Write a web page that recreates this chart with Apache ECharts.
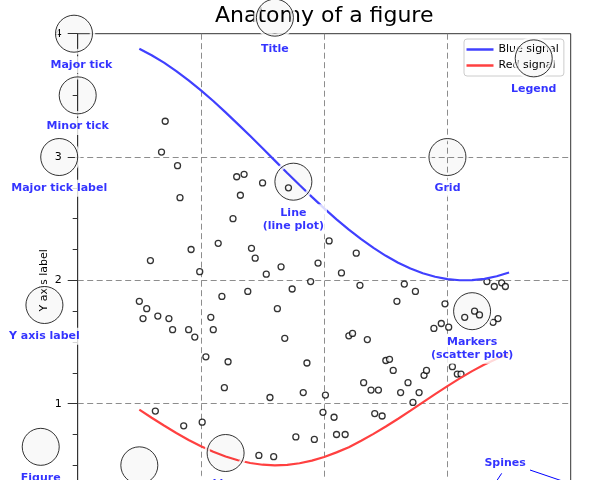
<!DOCTYPE html>
<html>
<head>
<meta charset="utf-8">
<title>Anatomy of a figure</title>
<script src="https://cdn.jsdelivr.net/npm/echarts@6/dist/echarts.min.js"></script>
<style>
    html, body { margin: 0; padding: 0; background: #fff; }
    #main { width: 599px; height: 480px; }
</style>
</head>
<body>
<div id="main"></div>
<script>
    // curves (every 0.1)
    var curveX = [0.5, 0.6, 0.7, 0.8, 0.9, 1.0, 1.1, 1.2, 1.3, 1.4, 1.5,
                  1.6, 1.7, 1.8, 1.9, 2.0, 2.1, 2.2, 2.3, 2.4, 2.5,
                  2.6, 2.7, 2.8, 2.9, 3.0, 3.1, 3.2, 3.3, 3.4, 3.5];
    var blueY  = [3.878, 3.825, 3.765, 3.697, 3.622, 3.540, 3.454, 3.362, 3.267, 3.170, 3.071,
                  2.971, 2.871, 2.773, 2.677, 2.584, 2.495, 2.411, 2.334, 2.263, 2.199,
                  2.143, 2.096, 2.058, 2.029, 2.010, 2.001, 2.002, 2.012, 2.033, 2.064];
    var redY   = [0.952, 0.886, 0.823, 0.762, 0.706, 0.655, 0.610, 0.572, 0.541, 0.519, 0.505,
                  0.500, 0.504, 0.517, 0.538, 0.568, 0.605, 0.647, 0.699, 0.755, 0.815,
                  0.878, 0.944, 1.011, 1.077, 1.142, 1.205, 1.264, 1.317, 1.365, 1.406];

    // scatter markers
    var dotX = [0.71, 0.68, 0.81, 0.83, 1.14, 0.92, 0.59, 0.99, 1.26, 1.17,
                0.50, 0.56, 0.53, 0.65, 0.74, 0.77, 0.90, 0.95, 1.08, 1.10,
                1.04, 1.22, 1.19, 0.63, 0.86, 1.01, 1.29, 1.35, 1.50, 1.71,
                1.32, 1.41, 1.44, 1.65, 1.53, 1.95, 2.04, 1.89, 1.74, 1.38,
                1.62, 1.68, 1.86, 1.56, 1.83, 2.01, 1.99, 1.77, 1.92, 1.47,
                1.59, 2.26, 2.14, 2.29, 2.65, 2.74, 2.59, 2.98, 3.32, 3.38,
                3.44, 3.47, 3.14, 3.22, 3.26, 3.41, 3.37, 2.95, 3.01, 2.89,
                2.20, 2.23, 2.35, 2.50, 2.53, 2.56, 2.81, 2.83, 3.04, 3.08,
                3.11, 2.32, 2.38, 2.44, 2.62, 2.68, 2.77, 2.72, 2.08, 2.41,
                2.47, 2.10, 2.17];
    var dotY = [3.29, 3.04, 2.93, 2.67, 2.30, 2.25, 2.16, 2.07, 2.50, 1.87,
                1.83, 1.77, 1.69, 1.71, 1.69, 1.60, 1.60, 1.54, 1.70, 1.60,
                1.38, 1.34, 1.13, 0.94, 0.82, 0.85, 2.84, 2.86, 2.79, 2.75,
                2.69, 2.26, 2.18, 2.11, 2.05, 2.14, 2.32, 1.99, 1.93, 1.91,
                1.77, 1.53, 1.33, 1.05, 1.09, 1.07, 0.93, 0.73, 0.71, 0.58,
                0.57, 2.22, 2.06, 1.96, 1.97, 1.91, 1.83, 1.81, 1.99, 1.95,
                1.98, 1.95, 1.70, 1.75, 1.72, 1.69, 1.66, 1.65, 1.62, 1.61,
                1.55, 1.57, 1.52, 1.35, 1.36, 1.27, 1.23, 1.27, 1.30, 1.24,
                1.24, 1.17, 1.11, 1.11, 1.09, 1.17, 1.09, 1.01, 0.89, 0.92,
                0.90, 0.75, 0.75];

    var tickLabels = ['0', '1', '2', '3', '4'];

    // annotation circles (data units)
    var ringX = [0.50, -0.03, 0.00, -0.15, 1.80, -0.27, 1.60, 1.75, 1.20, 3.20, 3.00, 3.70, 0.50, -0.30];
    var ringY = [-0.10, 4.00, 3.50, 3.00, -0.27, 1.80, 4.13, 2.80, 0.60, 1.75, 3.00, 3.80, 0.50, 0.65];

    // annotation texts (top-centred at their point)
    var noteText = ['Minor tick label', 'Major tick', 'Minor tick', 'Major tick label', 'X axis label',
                    'Y axis label', 'Title', 'Line\n(line plot)', 'Line\n(line plot)',
                    'Markers\n(scatter plot)', 'Grid', 'Legend', 'Axes', 'Figure'];
    var noteX = [0.50, 0.03, 0.00, -0.15, 1.80, -0.27, 1.60, 1.75, 1.20, 3.20, 3.00, 3.70, 0.50, -0.30];
    var noteY = [-0.32, 3.80, 3.30, 2.80, -0.45, 1.60, 3.93, 2.60, 0.40, 1.55, 2.80, 3.60, 0.30, 0.45];

    // spines arrows
    var spineArrowA = [[3.67, 0.462], [4.0, 0.35]];
    var spineArrowB = [[3.44, 0.435], [3.15, 0.0]];

    var FONT = 'DejaVu Sans';
    var BLUE = 'rgb(64,64,255)';
    var RED = 'rgb(255,64,64)';

    function pairs(xs, ys) {
        return xs.map(function (x, i) { return [x, ys[i]]; });
    }

    var axisCommon = {
        type: 'value',
        min: 0,
        max: 4,
        interval: 1,
        axisLine: {show: true, lineStyle: {color: '#333', width: 1}},
        axisTick: {show: true, length: 10, lineStyle: {color: '#333', width: 1}},
        minorTick: {show: true, splitNumber: 4, length: 5, lineStyle: {color: '#333', width: 1}},
        axisLabel: {
            margin: 16,
            fontFamily: FONT,
            fontSize: 11,
            color: '#000',
            formatter: function (v) { return tickLabels[Math.round(v)]; }
        },
        splitLine: {
            show: true,
            showMinLine: false,
            showMaxLine: false,
            lineStyle: {type: [6, 3.5], color: '#808080', width: 0.9}
        },
        nameLocation: 'middle',
        nameMoveOverlap: false,
        nameTextStyle: {fontFamily: FONT, fontSize: 11, color: '#000'}
    };

    var myChart = echarts.init(document.getElementById('main'), null, {renderer: 'canvas'});

    myChart.setOption({
        backgroundColor: '#fff',
        animation: false,
        graphic: [{
            type: 'text',
            x: 324.2,
            y: 16,
            z: 0,
            style: {
                text: 'Anatomy of a figure',
                fontFamily: FONT,
                fontSize: 22,
                fill: '#000',
                align: 'center',
                verticalAlign: 'middle'
            }
        }],
        grid: {
            left: 77.7,
            top: 33.7,
            width: 493,
            height: 493.3,
            outerBoundsMode: 'none',
            containLabel: false,
            show: true,
            borderColor: '#333',
            borderWidth: 1,
            backgroundColor: 'transparent'
        },
        legend: {
            data: ['Blue signal', 'Red signal'],
            orient: 'vertical',
            left: 464,
            top: 39,
            padding: [5, 5, 5, 2.5],
            itemGap: 5,
            itemWidth: 27,
            itemHeight: 2.5,
            icon: 'rect',
            backgroundColor: 'rgba(255,255,255,0.8)',
            borderColor: '#ccc',
            borderWidth: 1,
            borderRadius: 3,
            textStyle: {fontFamily: FONT, fontSize: 11, color: '#000'}
        },
        xAxis: Object.assign({}, axisCommon, {name: 'X axis label', nameGap: 30}),
        yAxis: Object.assign({}, axisCommon, {name: 'Y axis label', nameGap: 28, nameRotate: 90}),
        series: [
            {
                name: 'markers',
                type: 'scatter',
                z: 3,
                symbol: 'circle',
                symbolSize: 6,
                itemStyle: {color: '#fff', borderColor: '#000', borderWidth: 1.3},
                data: pairs(dotX, dotY)
            },
            {
                name: 'Red signal',
                type: 'line',
                z: 4,
                showSymbol: false,
                color: RED,
                lineStyle: {color: RED, width: 2.2},
                data: pairs(curveX, redY)
            },
            {
                name: 'Blue signal',
                type: 'line',
                z: 5,
                showSymbol: false,
                color: BLUE,
                lineStyle: {color: BLUE, width: 2.2},
                data: pairs(curveX, blueY)
            },
            // white halo under each annotation circle
            {
                name: 'halo',
                type: 'scatter',
                z: 10,
                clip: false,
                silent: true,
                symbolSize: 37,
                itemStyle: {color: 'rgba(0,0,0,0)', borderColor: '#fff', borderWidth: 5.5},
                data: pairs(ringX, ringY)
            },
            {
                name: 'rings',
                type: 'scatter',
                z: 11,
                clip: false,
                silent: true,
                symbolSize: 37,
                itemStyle: {color: 'rgba(0,0,0,0.03)', borderColor: '#000', borderWidth: 1},
                data: pairs(ringX, ringY)
            },
            {
                name: 'notes',
                type: 'scatter',
                z: 12,
                clip: false,
                silent: true,
                symbolSize: 0,
                label: {
                    show: true,
                    position: 'bottom',
                    distance: -2,
                    formatter: function (p) { return noteText[p.dataIndex]; },
                    fontFamily: FONT,
                    fontWeight: 'bold',
                    fontSize: 11,
                    lineHeight: 13,
                    color: '#0000ff',
                    align: 'center',
                    backgroundColor: '#fff',
                    padding: [2, 3]
                },
                data: pairs(noteX, noteY)
            },
            {
                name: 'spines',
                type: 'scatter',
                z: 12,
                clip: false,
                silent: true,
                symbolSize: 0,
                label: {
                    show: true,
                    position: [0, 0],
                    align: 'left',
                    verticalAlign: 'bottom',
                    formatter: 'Spines',
                    fontFamily: FONT,
                    fontWeight: 'bold',
                    fontSize: 11,
                    color: '#0000ff'
                },
                data: [[3.3, 0.475]]
            },
            {
                name: 'arrowA',
                type: 'line',
                z: 12,
                clip: false,
                silent: true,
                showSymbol: false,
                lineStyle: {color: '#0000ff', width: 1},
                data: spineArrowA
            },
            {
                name: 'arrowB',
                type: 'line',
                z: 12,
                clip: false,
                silent: true,
                showSymbol: false,
                lineStyle: {color: '#0000ff', width: 1},
                data: spineArrowB
            }
        ]
    });
</script>
</body>
</html>
